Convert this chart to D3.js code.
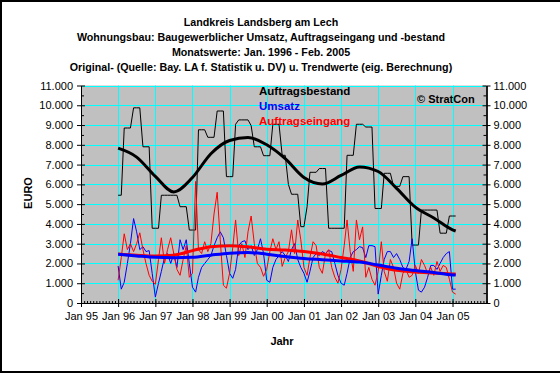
<!DOCTYPE html>
<html>
<head>
<meta charset="utf-8">
<script src="https://cdn.jsdelivr.net/npm/d3@7"></script>
<style>
  html, body { margin: 0; padding: 0; background: #fff; overflow: hidden; }
  svg { display: block; font-family: "Liberation Sans", Arial, sans-serif; }
</style>
</head>
<body>
<svg id="chart" width="560" height="374"></svg>
<script>
// monthly values, Jan 1996 .. Feb 2005 (110 months), in 1000 EURO
const firstMonth = new Date(1996, 0, 1);

const umsatz = [
  1870, 700, 1050, 2000, 3000, 4270, 3600, 2700, 2850, 2600,
  2650, 1500, 300, 1000, 1600, 2300, 2500, 2000, 2500, 1800,
  3200, 2700, 3200, 2000, 800, 550, 1300, 1800, 2000, 2200,
  2400, 2900, 3300, 3600, 3300, 2400, 1500, 1250, 1700, 2900,
  3100, 3150, 2700, 2900, 2400, 2700, 3250, 2500, 1150, 1050,
  1800, 2200, 2400, 2600, 2400, 2100, 2700, 3000, 2200, 1800,
  1500, 1050, 1600, 2300, 2500, 2400, 2600, 2500, 2650, 2600,
  2000, 1400, 1000, 900, 1500, 2300, 2600, 2700, 2850, 2800,
  2300, 2900, 2900, 2850, 450, 1400, 2200, 2600, 2600, 2300,
  2500, 2200, 1800, 1700, 2100, 3250, 1600, 650, 550, 800,
  1300, 1900, 1900, 1700, 2000, 2300, 2500, 2600, 700, 700
];

const auftragseingang = [
  1150, 2300, 3500, 2700, 3000, 2600, 3000, 3550, 2700, 2000,
  1400, 1100, 950, 2200, 3300, 2000, 2700, 3300, 2500, 1700,
  1400, 2200, 2900, 1300, 1500, 6150, 2700, 2500, 3100, 2600,
  3000, 4500, 5600, 3200, 900, 750, 1500, 2800, 4200, 2400,
  3000, 2300, 3600, 4400, 3000, 2000, 1800, 1350, 1700, 2600,
  3250, 2700, 3100, 1850, 2300, 2600, 3700, 2500, 4200, 3200,
  1800, 1400, 2300, 3100, 2900, 1800, 1500, 2500, 2700, 1800,
  1300, 1000, 1700, 2900, 4200, 2600, 1600, 4200, 3200, 3850,
  1300, 1800, 1200, 900, 1600, 3100, 1600, 1100, 2200, 1800,
  1000, 700, 1500, 1700, 1300, 1400, 1900, 1500, 2200, 1900,
  1500, 1800, 1400, 2100, 1600, 1900, 1800, 1200, 550, 450
];

const auftragsbestand = [
  5450, 5450, 8850, 8850, 8850, 9870, 9870, 9870, 7900, 7900,
  7900, 3780, 3780, 3780, 5450, 5450, 5450, 5450, 5450, 5450,
  4870, 4870, 4870, 3690, 3690, 3690, 8760, 8760, 8760, 8380,
  8380, 8380, 9710, 9710, 9710, 6390, 6390, 6390, 9040, 9260,
  9260, 9260, 9260, 8970, 7900, 7900, 7900, 7450, 7450, 7450,
  9040, 9040, 9040, 7470, 7470, 6000, 5500, 5500, 5500, 3860,
  3860, 4870, 6610, 6610, 6610, 6800, 6800, 6800, 3780, 3780,
  3780, 3780, 3780, 3780, 7470, 7470, 7470, 9040, 9040, 9040,
  8900, 8900, 8900, 4780, 4780, 4780, 6560, 6560, 6560, 5900,
  5900, 5900, 6390, 6390, 6390, 2930, 2930, 2930, 4700, 4700,
  4700, 4700, 4700, 4700, 3530, 3530, 3530, 4400, 4400, 4400
];

// trend values, read at these month offsets from Jan 1996
const trendMonths = [0, 6, 12, 18, 24, 30, 36, 42, 48, 54, 60, 66, 72, 78, 84, 90, 96, 102, 108, 109];
const trendBestand = [7830, 7380, 6400, 5620, 6350, 7550, 8220, 8370, 8000, 7300, 6350, 6020, 6450, 6880, 6650, 5800, 4850, 4300, 3700, 3640];
const trendEingang = [2480, 2420, 2380, 2420, 2650, 2850, 2900, 2840, 2720, 2680, 2600, 2480, 2300, 2120, 1850, 1650, 1570, 1520, 1470, 1470];
const trendUmsatz  = [2460, 2380, 2310, 2290, 2310, 2420, 2520, 2560, 2470, 2350, 2250, 2190, 2130, 2070, 1920, 1760, 1640, 1540, 1420, 1410];

const yTicks = d3.range(0, 11001, 1000);
const titleLines = [
  "Landkreis Landsberg am Lech",
  "Wohnungsbau: Baugewerblicher Umsatz, Auftragseingang und -bestand",
  "Monatswerte: Jan. 1996 - Feb. 2005",
  "Original- (Quelle: Bay. LA f. Statistik u. DV) u. Trendwerte (eig. Berechnung)"
];
const legendItems = [
  {name: "Auftragsbestand", color: "#000000"},
  {name: "Umsatz", color: "#0000ff"},
  {name: "Auftragseingang", color: "#ff0000"}
];

const plotLeft = 81, plotRight = 486.5, plotTop = 85.5, plotBottom = 303;
const svg = d3.select("#chart");

const monthDate = i => new Date(firstMonth.getFullYear(), firstMonth.getMonth() + i, 1);

const x = d3.scaleTime()
  .domain([new Date(1995, 0, 1), new Date(2005, 11, 1)])
  .range([plotLeft, plotRight]);
const y = d3.scaleLinear().domain([0, 11000]).range([plotBottom, plotTop]);

// white chart area with a frame on the left, top and bottom edges
svg.append("rect").attr("width", 560).attr("height", 374).attr("fill", "#fff");
svg.append("rect")
  .attr("x", 1).attr("y", 1).attr("width", 600).attr("height", 371)
  .attr("fill", "none").attr("stroke", "#000").attr("stroke-width", 2)
  .attr("shape-rendering", "crispEdges");

// title
svg.append("g")
  .attr("font-weight", "bold").attr("font-size", 10.7).attr("text-anchor", "middle")
  .selectAll("text").data(titleLines).join("text")
    .attr("x", 261).attr("y", (d, i) => 26 + i * 15)
    .text(d => d);

// plot area
svg.append("rect")
  .attr("x", plotLeft).attr("y", plotTop)
  .attr("width", plotRight - plotLeft).attr("height", plotBottom - plotTop)
  .attr("fill", "#c0c0c0");

const yearTicks = d3.timeYear.range(new Date(1995, 0, 1), new Date(2005, 1, 1));

const grid = svg.append("g").attr("stroke", "#00ffff").attr("stroke-width", 1);
grid.selectAll(".h").data(yTicks.slice(1)).join("line").attr("class", "h")
  .attr("x1", plotLeft).attr("x2", plotRight)
  .attr("y1", d => Math.round(y(d)) + 0.5).attr("y2", d => Math.round(y(d)) + 0.5);
grid.selectAll(".v").data(yearTicks.slice(1)).join("line").attr("class", "v")
  .attr("y1", plotTop).attr("y2", plotBottom)
  .attr("x1", d => Math.round(x(d)) + 0.5).attr("x2", d => Math.round(x(d)) + 0.5);

// series
const line = d3.line().x((d, i) => x(monthDate(i))).y(d => y(d));
const trend = d3.line()
  .x((d, i) => x(monthDate(trendMonths[i])))
  .y(d => y(d))
  .curve(d3.curveMonotoneX);

const plot = svg.append("g").attr("fill", "none").attr("stroke-linejoin", "round");
plot.append("path").attr("d", line(auftragsbestand)).attr("stroke", "#000").attr("stroke-width", 1);
plot.append("path").attr("d", line(umsatz)).attr("stroke", "#0000ff").attr("stroke-width", 1);
plot.append("path").attr("d", line(auftragseingang)).attr("stroke", "#ff0000").attr("stroke-width", 1);
plot.append("path").attr("d", trend(trendBestand)).attr("stroke", "#000").attr("stroke-width", 3);
plot.append("path").attr("d", trend(trendEingang)).attr("stroke", "#ff0000").attr("stroke-width", 3);
plot.append("path").attr("d", trend(trendUmsatz)).attr("stroke", "#0000ff").attr("stroke-width", 3);

// axes
const fmt = d => d3.format(",")(d).replace(/,/g, ".");
function styleAxis(g) {
  g.attr("font-family", null).attr("font-size", 11);
  g.selectAll("text").attr("fill", "#000");
  g.selectAll("line, path").attr("stroke", "#000");
}

svg.append("g").attr("transform", `translate(${plotLeft},0)`)
  .call(d3.axisLeft(y).tickValues(yTicks).tickFormat(fmt).tickSize(4).tickSizeOuter(0).tickPadding(4))
  .call(styleAxis);
svg.append("g").attr("transform", `translate(${plotLeft},0)`)
  .call(d3.axisLeft(y).tickValues(yTicks).tickFormat("").tickSize(-4).tickSizeOuter(0))
  .call(styleAxis);
svg.append("g").attr("transform", `translate(${plotLeft},0)`)
  .call(d3.axisLeft(y).tickValues(d3.range(500, 11000, 1000)).tickFormat("").tickSize(-3).tickSizeOuter(0))
  .call(styleAxis);

svg.append("g").attr("transform", `translate(${plotRight},0)`)
  .call(d3.axisRight(y).tickValues(yTicks).tickFormat(fmt).tickSize(4).tickSizeOuter(0).tickPadding(3))
  .call(styleAxis);
svg.append("g").attr("transform", `translate(${plotRight},0)`)
  .call(d3.axisRight(y).tickValues(yTicks).tickFormat("").tickSize(-4).tickSizeOuter(0))
  .call(styleAxis);
svg.append("g").attr("transform", `translate(${plotRight},0)`)
  .call(d3.axisRight(y).tickValues(d3.range(500, 11000, 1000)).tickFormat("").tickSize(-3).tickSizeOuter(0))
  .call(styleAxis);

svg.append("g").attr("transform", `translate(0,${plotBottom})`)
  .call(d3.axisBottom(x).tickValues(yearTicks).tickFormat(d3.timeFormat("%b %y")).tickSize(4).tickSizeOuter(0).tickPadding(5))
  .call(styleAxis);
svg.append("g").attr("transform", `translate(0,${plotBottom})`)
  .call(d3.axisBottom(x).tickValues(yearTicks).tickFormat("").tickSize(-4).tickSizeOuter(0))
  .call(styleAxis);
svg.append("g").attr("transform", `translate(0,${plotBottom})`)
  .call(d3.axisBottom(x).tickValues(d3.timeMonth.range(new Date(1995, 0, 1), new Date(2005, 11, 2))).tickFormat("").tickSize(-2).tickSizeOuter(0))
  .call(styleAxis);

// axis titles
svg.append("text")
  .attr("transform", "translate(32,193) rotate(-90)")
  .attr("text-anchor", "middle").attr("font-weight", "bold").attr("font-size", 11)
  .text("EURO");
svg.append("text")
  .attr("x", 282).attr("y", 345)
  .attr("text-anchor", "middle").attr("font-weight", "bold").attr("font-size", 11)
  .text("Jahr");

// legend
svg.append("g")
  .attr("font-weight", "bold").attr("font-size", 11.5)
  .selectAll("text").data(legendItems).join("text")
    .attr("x", 259).attr("y", (d, i) => 95 + i * 15)
    .attr("fill", d => d.color)
    .text(d => d.name);

svg.append("text")
  .attr("x", 417).attr("y", 102.5)
  .attr("font-weight", "bold").attr("font-size", 11)
  .text("\u00a9 StratCon");
</script>
</body>
</html>
